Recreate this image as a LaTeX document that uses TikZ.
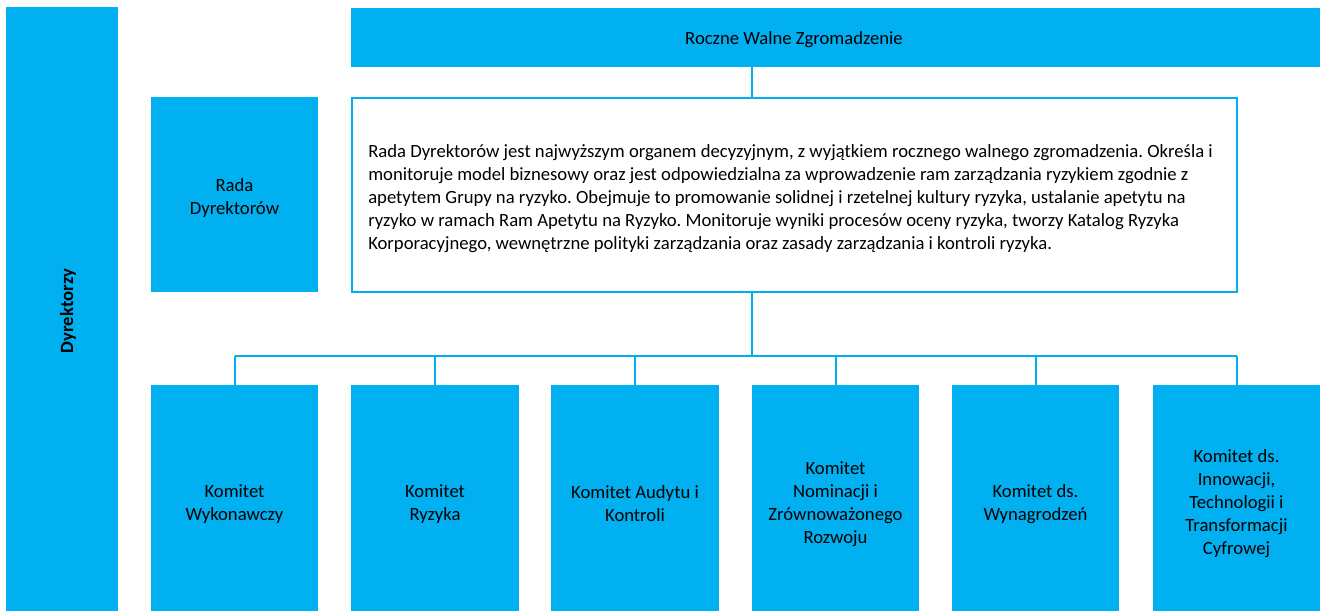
\documentclass[tikz,border=0pt]{standalone}
\usepackage{fontspec}
\setmainfont{Carlito}
\usepackage{tikz}
\usetikzlibrary{positioning, calc}

\definecolor{orgblue}{RGB}{0,176,240}
\frenchspacing

\begin{document}
\begin{tikzpicture}[
  x=0.75pt, y=-0.75pt,
  % Node Styles
  bluebox/.style={rectangle, fill=orgblue, draw=none, inner sep=0pt},
  textbox/.style={rectangle, draw=orgblue, line width=1.5pt, fill=white, inner sep=0pt},
  kbox/.style={bluebox, minimum width=125.5pt, minimum height=169.5pt},
  boxtext/.style={inner sep=0pt, text=black, align=center, font=\fontsize{14pt}{17.25pt}\selectfont},
  % Connector Style
  orgline/.style={draw=orgblue, line width=1.5pt}
]
\useasboundingbox (0,0) rectangle (1320,611);

% Left band
\node[bluebox, minimum width=84pt, minimum height=453pt] (dir) at (62,309) {};
\node[boxtext, font=\fontsize{14pt}{17pt}\selectfont\bfseries, rotate=90] (dirlabel) at (68,311) {Dyrektorzy};

% Top level
\node[bluebox, minimum width=726.75pt, minimum height=44.25pt] (agm) at (835.5,37.5) {};
\node[boxtext] (agmlabel) at (794,40) {Roczne Walne Zgromadzenie};

\node[bluebox, minimum width=125.25pt, minimum height=146.25pt] (rada) at (234.5,194.5) {};
\node[boxtext] (radalabel) at (234.5,198.5) {Rada\\Dyrektorów};
\node[textbox, minimum width=664pt, minimum height=145.5pt] (board) at (794.5,195) {};
\node[boxtext, anchor=west, align=left] (boardtext) at (368,199) {%
Rada Dyrektorów jest najwyższym organem decyzyjnym, z wyjątkiem rocznego walnego zgromadzenia. Określa i\\
monitoruje model biznesowy oraz jest odpowiedzialna za wprowadzenie ram zarządzania ryzykiem zgodnie z\\
apetytem Grupy na ryzyko. Obejmuje to promowanie solidnej i rzetelnej kultury ryzyka, ustalanie apetytu na\\
ryzyko w ramach Ram Apetytu na Ryzyko. Monitoruje wyniki procesów oceny ryzyka, tworzy Katalog Ryzyka\\
Korporacyjnego, wewnętrzne polityki zarządzania oraz zasady zarządzania i kontroli ryzyka.};

% Committees
\node[kbox] (k1) at (234.5,498) {};
\node[kbox] (k2) at (435,498) {};
\node[kbox] (k3) at (635,498) {};
\node[kbox] (k4) at (835.5,498) {};
\node[kbox] (k5) at (1035.5,498) {};
\node[kbox] (k6) at (1236.5,498) {};
\node[boxtext] (k1label) at ([yshift=-4.5pt]k1.center) {Komitet\\Wykonawczy};
\node[boxtext] (k2label) at ([yshift=-4.5pt]k2.center) {Komitet\\Ryzyka};
\node[boxtext] (k3label) at ([yshift=-4.5pt]k3.center) {Komitet Audytu i\\Kontroli};
\node[boxtext] (k4label) at ([yshift=-4.5pt]k4.center) {Komitet\\Nominacji i\\Zrównoważonego\\Rozwoju};
\node[boxtext] (k5label) at ([yshift=-4.5pt]k5.center) {Komitet ds.\\Wynagrodzeń};
\node[boxtext] (k6label) at ([yshift=-4.5pt]k6.center) {Komitet ds.\\Innowacji,\\Technologii i\\Transformacji\\Cyfrowej};

% Connectors
\coordinate (spine) at (752,356);
\draw[orgline] (spine |- agm.south) -- (spine |- board.north);
\draw[orgline] (spine |- board.south) -- (spine);
\draw[orgline] (spine -| k1.north) -- (spine -| k6.north);
\foreach \k in {k1,k2,k3,k4,k5,k6}
  \draw[orgline] (spine -| \k.north) -- (\k.north);

\end{tikzpicture}
\end{document}
